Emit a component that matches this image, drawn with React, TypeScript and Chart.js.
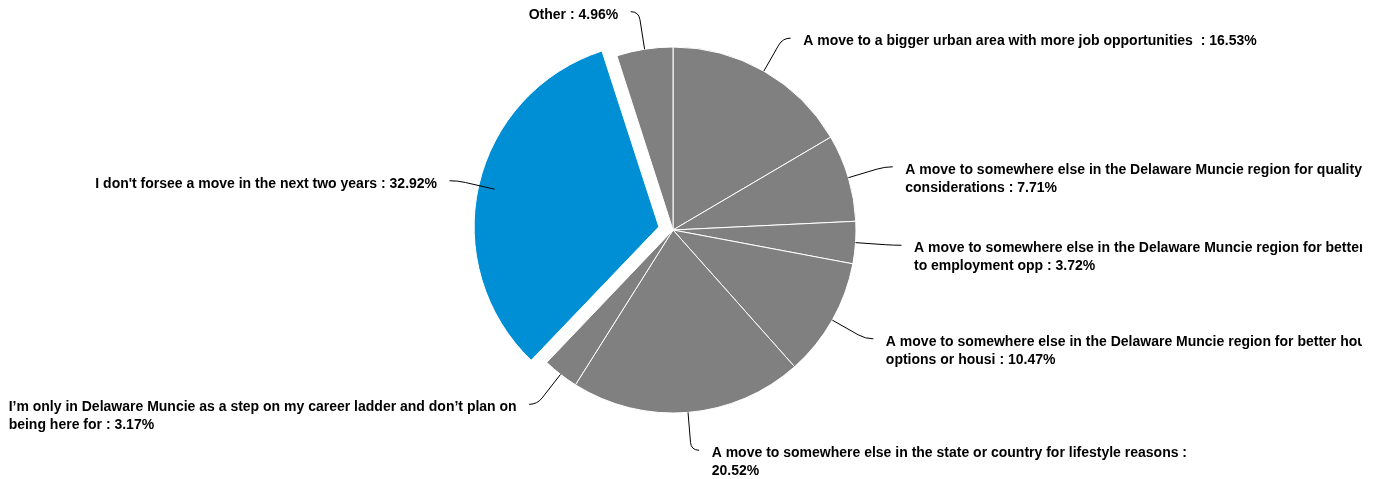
import React, { useEffect, useRef } from "react";
import { Chart, registerables } from "chart.js";

Chart.register(...registerables);

// Categories (clockwise from 12 o'clock)
const categories = [
  "A move to a bigger urban area with more job opportunities ",
  "A move to somewhere else in the Delaware Muncie region for quality of life considerations",
  "A move to somewhere else in the Delaware Muncie region for better access to employment opp",
  "A move to somewhere else in the Delaware Muncie region for better housing options or housi",
  "A move to somewhere else in the state or country for lifestyle reasons",
  "I\u2019m only in Delaware Muncie as a step on my career ladder and don\u2019t plan on being here for",
  "I don't forsee a move in the next two years",
  "Other",
];

// Percent values
const values = [16.53, 7.71, 3.72, 10.47, 20.52, 3.17, 32.92, 4.96];

const GRAY = "#808080";
const BLUE = "#008fd5";
const sliceColors = [GRAY, GRAY, GRAY, GRAY, GRAY, GRAY, BLUE, GRAY];
const sliceOffsets = [0, 0, 0, 0, 0, 0, 58, 0];

const FONT = "bold 14px 'Liberation Sans', Arial, Helvetica, sans-serif";
const WRAP_WIDTH = 514;

function wrapText(ctx: CanvasRenderingContext2D, text: string, maxW: number): string[] {
  const words = text.split(" ");
  const lines: string[] = [];
  let line = "";
  for (let i = 0; i < words.length; i++) {
    const w = words[i];
    const test = line === "" && i === 0 ? w : line + " " + w;
    if (line !== "" && w !== "" && ctx.measureText(test).width > maxW) {
      lines.push(line);
      line = w;
    } else {
      line = test;
    }
  }
  if (line !== "") lines.push(line);
  return lines;
}

const outerLabels = {
  id: "outerLabels",
  afterDatasetsDraw(chart: any) {
    const ctx: CanvasRenderingContext2D = chart.ctx;
    const meta = chart.getDatasetMeta(0);
    ctx.save();
    ctx.font = FONT;
    meta.data.forEach((arc: any, i: number) => {
      const { x, y, startAngle, endAngle, outerRadius } = arc.getProps(
        ["x", "y", "startAngle", "endAngle", "outerRadius"],
        true
      );
      const mid = (startAngle + endAngle) / 2;
      const c = Math.cos(mid);
      const s = Math.sin(mid);
      const right = c >= 0;
      const sx = x + c * outerRadius;
      const sy = y + s * outerRadius;
      const px = x + c * (outerRadius + 30);
      const py = y + s * (outerRadius + 30);
      const qx = x + c * (outerRadius + 38);
      const qy = y + s * (outerRadius + 38);
      const ex = qx + (right ? 8 : -8);
      const ey = qy;
      ctx.beginPath();
      ctx.moveTo(sx, sy);
      ctx.lineTo(px, py);
      ctx.quadraticCurveTo(qx, qy, ex, ey);
      ctx.strokeStyle = "#000";
      ctx.lineWidth = 1;
      ctx.stroke();

      const text = `${categories[i]} : ${values[i].toFixed(2)}%`;
      const lines = wrapText(ctx, text, WRAP_WIDTH);
      const w = Math.max(...lines.map((l) => ctx.measureText(l).width));
      const tx = right ? ex + 12.5 : ex - 12.5 - w;
      ctx.textAlign = "left";
      ctx.textBaseline = "middle";
      ctx.fillStyle = "#000";
      lines.forEach((l, k) => ctx.fillText(l, tx, ey + 3 + k * 18));
    });
    ctx.restore();
  },
};

export default function App() {
  const ref = useRef<HTMLCanvasElement | null>(null);
  useEffect(() => {
    if (!ref.current) return;
    const chart = new Chart(ref.current, {
      type: "pie",
      data: {
        labels: categories,
        datasets: [
          {
            data: values,
            backgroundColor: sliceColors,
            borderColor: "#ffffff",
            borderWidth: 1,
            offset: sliceOffsets,
            radius: 183,
          } as any,
        ],
      },
      options: {
        responsive: false,
        animation: false,
        layout: { padding: { left: 0, right: 16, top: 0, bottom: 19 } },
        plugins: {
          legend: { display: false },
          tooltip: { enabled: false },
        },
        events: [],
      },
      plugins: [outerLabels],
    });
    return () => chart.destroy();
  }, []);
  return (
    <div style={{ position: "absolute", left: 0, top: 0, width: 1362, height: 479 }}>
      <canvas ref={ref} width={1362} height={479} style={{ display: "block" }} />
    </div>
  );
}
